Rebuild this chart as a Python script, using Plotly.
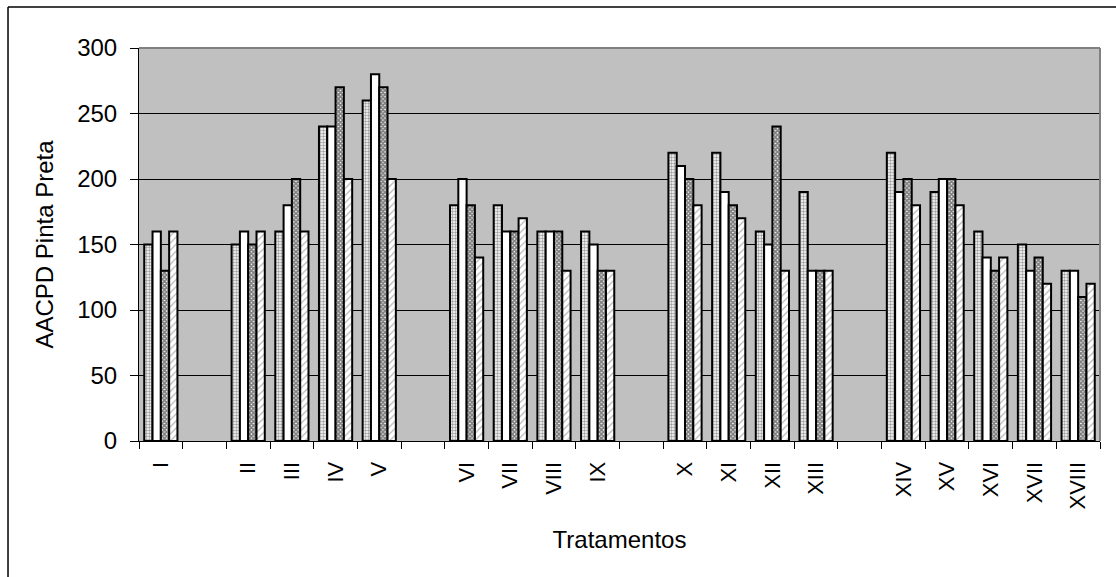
import plotly.graph_objects as go

categories = ["I", " ", "II", "III", "IV", "V", "  ", "VI", "VII", "VIII", "IX", "   ",
              "X", "XI", "XII", "XIII", "    ", "XIV", "XV", "XVI", "XVII", "XVIII"]

serie1 = [150, None, 150, 160, 240, 260, None, 180, 180, 160, 160, None,
          220, 220, 160, 190, None, 220, 190, 160, 150, 130]
serie2 = [160, None, 160, 180, 240, 280, None, 200, 160, 160, 150, None,
          210, 190, 150, 130, None, 190, 200, 140, 130, 130]
serie3 = [130, None, 150, 200, 270, 270, None, 180, 160, 160, 130, None,
          200, 180, 240, 130, None, 200, 200, 130, 140, 110]
serie4 = [160, None, 160, 160, 200, 200, None, 140, 170, 130, 130, None,
          180, 170, 130, 130, None, 180, 180, 140, 120, 120]

y_ticks = [0, 50, 100, 150, 200, 250, 300]

FONT = "Liberation Sans, Arial, sans-serif"

patterns = [
    dict(shape=".", size=3, solidity=0.5, fgcolor="#404040", bgcolor="white"),
    dict(shape="", bgcolor="white"),
    dict(shape="x", size=3, solidity=0.8, fgcolor="black", bgcolor="white"),
    dict(shape="/", size=5, solidity=0.25, fgcolor="#707070", bgcolor="white"),
]

fig = go.Figure()
for vals, pat in zip([serie1, serie2, serie3, serie4], patterns):
    fig.add_trace(go.Bar(
        x=categories, y=vals,
        marker=dict(color="white", pattern=pat, line=dict(color="black", width=2)),
        showlegend=False,
    ))

fig.update_layout(
    width=1116, height=577,
    margin=dict(l=139, r=16, t=48, b=136),
    paper_bgcolor="white",
    plot_bgcolor="#C0C0C0",
    barmode="group",
    bargap=0.24,
    bargroupgap=0,
    font=dict(family=FONT, color="black"),
    xaxis=dict(
        type="category",
        categoryorder="array", categoryarray=categories,
        tickson="boundaries",
        ticks="outside", ticklen=7, tickcolor="black", tickwidth=1,
        showline=True, linecolor="black", linewidth=1,
        tickangle=-90,
        tickfont=dict(family=FONT, size=22, color="black"),
        ticklabelstandoff=11,
        showgrid=False,
        title=dict(text="Tratamentos", font=dict(family=FONT, size=24, color="black"), standoff=22),
    ),
    yaxis=dict(
        range=[0, 300],
        tickvals=y_ticks,
        ticks="outside", ticklen=8, tickcolor="black", tickwidth=1,
        showline=True, linecolor="black", linewidth=1,
        showgrid=True, gridcolor="black", gridwidth=1,
        tickfont=dict(family=FONT, size=24, color="black"),
        ticklabelstandoff=8,
        zeroline=False,
        title=dict(text="AACPD Pinta Preta", font=dict(family=FONT, size=24, color="black"), standoff=16),
    ),
    shapes=[
        dict(type="line", xref="paper", yref="paper", x0=0, x1=1, y0=1, y1=1,
             line=dict(color="#808080", width=2)),
        dict(type="line", xref="paper", yref="paper", x0=1, x1=1, y0=0, y1=1,
             line=dict(color="#808080", width=2)),
        dict(type="line", xref="paper", yref="paper", x0=-0.1363, x1=1.05, y0=1.1043, y1=1.1043,
             line=dict(color="black", width=1.5)),
        dict(type="line", xref="paper", yref="paper", x0=-0.1363, x1=-0.1363, y0=1.1043, y1=-0.36,
             line=dict(color="black", width=1.5)),
    ],
)

fig.write_html("out.html")
